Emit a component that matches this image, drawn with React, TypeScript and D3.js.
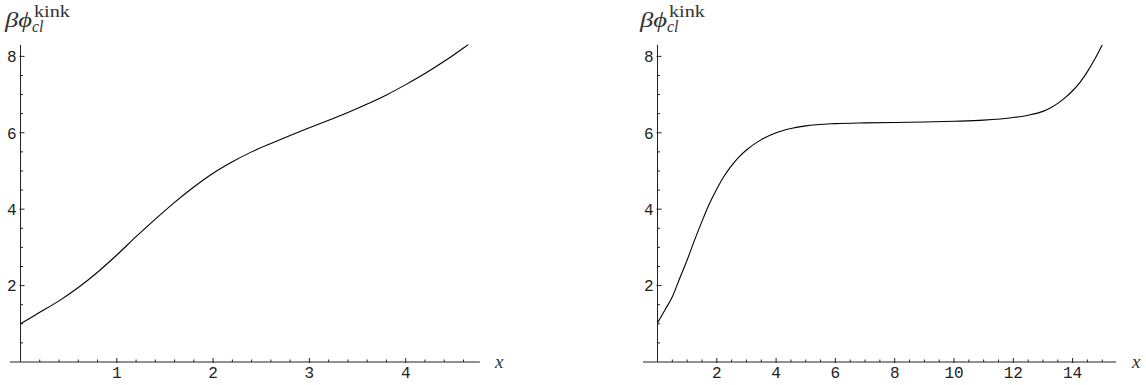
import React from "react";
import * as d3 from "d3";

// left panel: kink profile, short interval
const leftX = [0, 0.2, 0.4, 0.6, 0.8, 1.0, 1.2, 1.4, 1.6, 1.8, 2.0, 2.2, 2.4, 2.6, 2.8, 3.0, 3.2, 3.4, 3.6, 3.8, 4.0, 4.2, 4.4, 4.6, 4.65];
const leftY = [1.0, 1.3, 1.6, 1.95, 2.35, 2.8, 3.28, 3.74, 4.18, 4.58, 4.94, 5.24, 5.5, 5.72, 5.93, 6.13, 6.33, 6.53, 6.75, 6.99, 7.26, 7.55, 7.87, 8.22, 8.31];

// right panel: long interval, plateau near 2*pi
const rightX = [0, 0.25, 0.5, 0.75, 1.0, 1.25, 1.5, 1.75, 2.0, 2.25, 2.5, 2.75, 3.0, 3.5, 4.0, 4.5, 5.0, 6.0, 7.0, 8.0, 9.0, 10.0, 11.0, 12.0, 12.5, 13.0, 13.25, 13.5, 13.75, 14.0, 14.25, 14.5, 14.75, 15.0];
const rightY = [1.02, 1.36, 1.71, 2.19, 2.67, 3.19, 3.68, 4.14, 4.53, 4.87, 5.14, 5.37, 5.55, 5.82, 6.0, 6.11, 6.18, 6.24, 6.26, 6.27, 6.28, 6.3, 6.33, 6.4, 6.46, 6.56, 6.65, 6.77, 6.92, 7.1, 7.32, 7.6, 7.93, 8.3];

const leftXTicks = [1, 2, 3, 4];
const rightXTicks = [2, 4, 6, 8, 10, 12, 14];
const yTicks = [2, 4, 6, 8];

const axisColor = "#222";
const monoFont = "'Liberation Mono', 'DejaVu Sans Mono', monospace";
const serifFont = "'Liberation Serif', serif";

type PanelProps = {
  xs: number[];
  ys: number[];
  xDomain: [number, number];
  xRange: [number, number];
  axisExtent: [number, number];
  xTicks: number[];
  minorStep: number;
  titleX: number;
  xLabelX: number;
};

function Panel(props: PanelProps) {
  const { xs, ys, xDomain, xRange, axisExtent, xTicks, minorStep, titleX, xLabelX } = props;
  const x = d3.scaleLinear().domain(xDomain).range(xRange);
  const y = d3.scaleLinear().domain([0, 8.3]).range([362, 44.9]);

  const pts: [number, number][] = xs.map((v, i) => [v, ys[i]]);
  const line = d3
    .line<[number, number]>()
    .x(d => x(d[0]))
    .y(d => y(d[1]))
    .curve(d3.curveMonotoneX);

  const xMinor = d3
    .range(minorStep, xDomain[1] + 1e-6, minorStep)
    .filter(v => !xTicks.some(t => Math.abs(t - v) < 1e-6));
  const yMinor = d3
    .range(0.5, 8.01, 0.5)
    .filter(v => !yTicks.some(t => Math.abs(t - v) < 1e-6));

  const x0 = x(0);
  const y0 = y(0);

  return (
    <g>
      {/* axes */}
      <line x1={x(axisExtent[0])} x2={x(axisExtent[1])} y1={y0} y2={y0} stroke={axisColor} strokeWidth={1} />
      <line x1={x0} x2={x0} y1={y0} y2={y(8.3)} stroke={axisColor} strokeWidth={1} />

      {xTicks.map(t => (
        <g key={"xt" + t}>
          <line x1={x(t)} x2={x(t)} y1={y0 + 1} y2={y0 - 4} stroke={axisColor} />
          <text x={x(t)} y={y0 + 16} textAnchor="middle" fontFamily={monoFont} fontSize={16} fill="#222">
            {t}
          </text>
        </g>
      ))}
      {xMinor.map(t => (
        <line key={"xm" + t} x1={x(t)} x2={x(t)} y1={y0} y2={y0 - 2.5} stroke={axisColor} />
      ))}

      {yTicks.map(t => (
        <g key={"yt" + t}>
          <line x1={x0 - 1} x2={x0 + 4} y1={y(t)} y2={y(t)} stroke={axisColor} />
          <text x={x0 - 4} y={y(t)} dy="0.36em" textAnchor="end" fontFamily={monoFont} fontSize={16} fill="#222">
            {t}
          </text>
        </g>
      ))}
      {yMinor.map(t => (
        <line key={"ym" + t} x1={x0} x2={x0 + 2.5} y1={y(t)} y2={y(t)} stroke={axisColor} />
      ))}

      <path d={line(pts) || ""} fill="none" stroke="#000" strokeWidth={1.1} />

      {/* axis titles */}
      <text x={titleX} y={27} fontFamily={serifFont} fontStyle="italic" fontSize={20} fill="#333" textLength={27} lengthAdjust="spacingAndGlyphs">
        βϕ
      </text>
      <text x={titleX + 29} y={17} fontFamily={serifFont} fontSize={16} fill="#333" textLength={36} lengthAdjust="spacingAndGlyphs">
        kink
      </text>
      <text x={titleX + 27} y={32} fontFamily={serifFont} fontStyle="italic" fontSize={16} fill="#333">
        cl
      </text>
      <text x={xLabelX} y={y0} dy="0.3em" fontFamily={serifFont} fontStyle="italic" fontSize={19} fill="#333">
        x
      </text>
    </g>
  );
}

export default function App() {
  return (
    <svg width={1146} height={385} style={{ position: "absolute", left: 0, top: 0, background: "#fff" }}>
      <Panel
        xs={leftX}
        ys={leftY}
        xDomain={[0, 4.65]}
        xRange={[20.5, 20.5 + 4.65 * 96.3]}
        axisExtent={[-0.11, 4.77]}
        xTicks={leftXTicks}
        minorStep={0.2}
        titleX={5}
        xLabelX={495}
      />
      <Panel
        xs={rightX}
        ys={rightY}
        xDomain={[0, 15]}
        xRange={[657.5, 657.5 + 15 * 29.65]}
        axisExtent={[-0.49, 15.47]}
        xTicks={rightXTicks}
        minorStep={0.5}
        titleX={640}
        xLabelX={1132}
      />
    </svg>
  );
}
